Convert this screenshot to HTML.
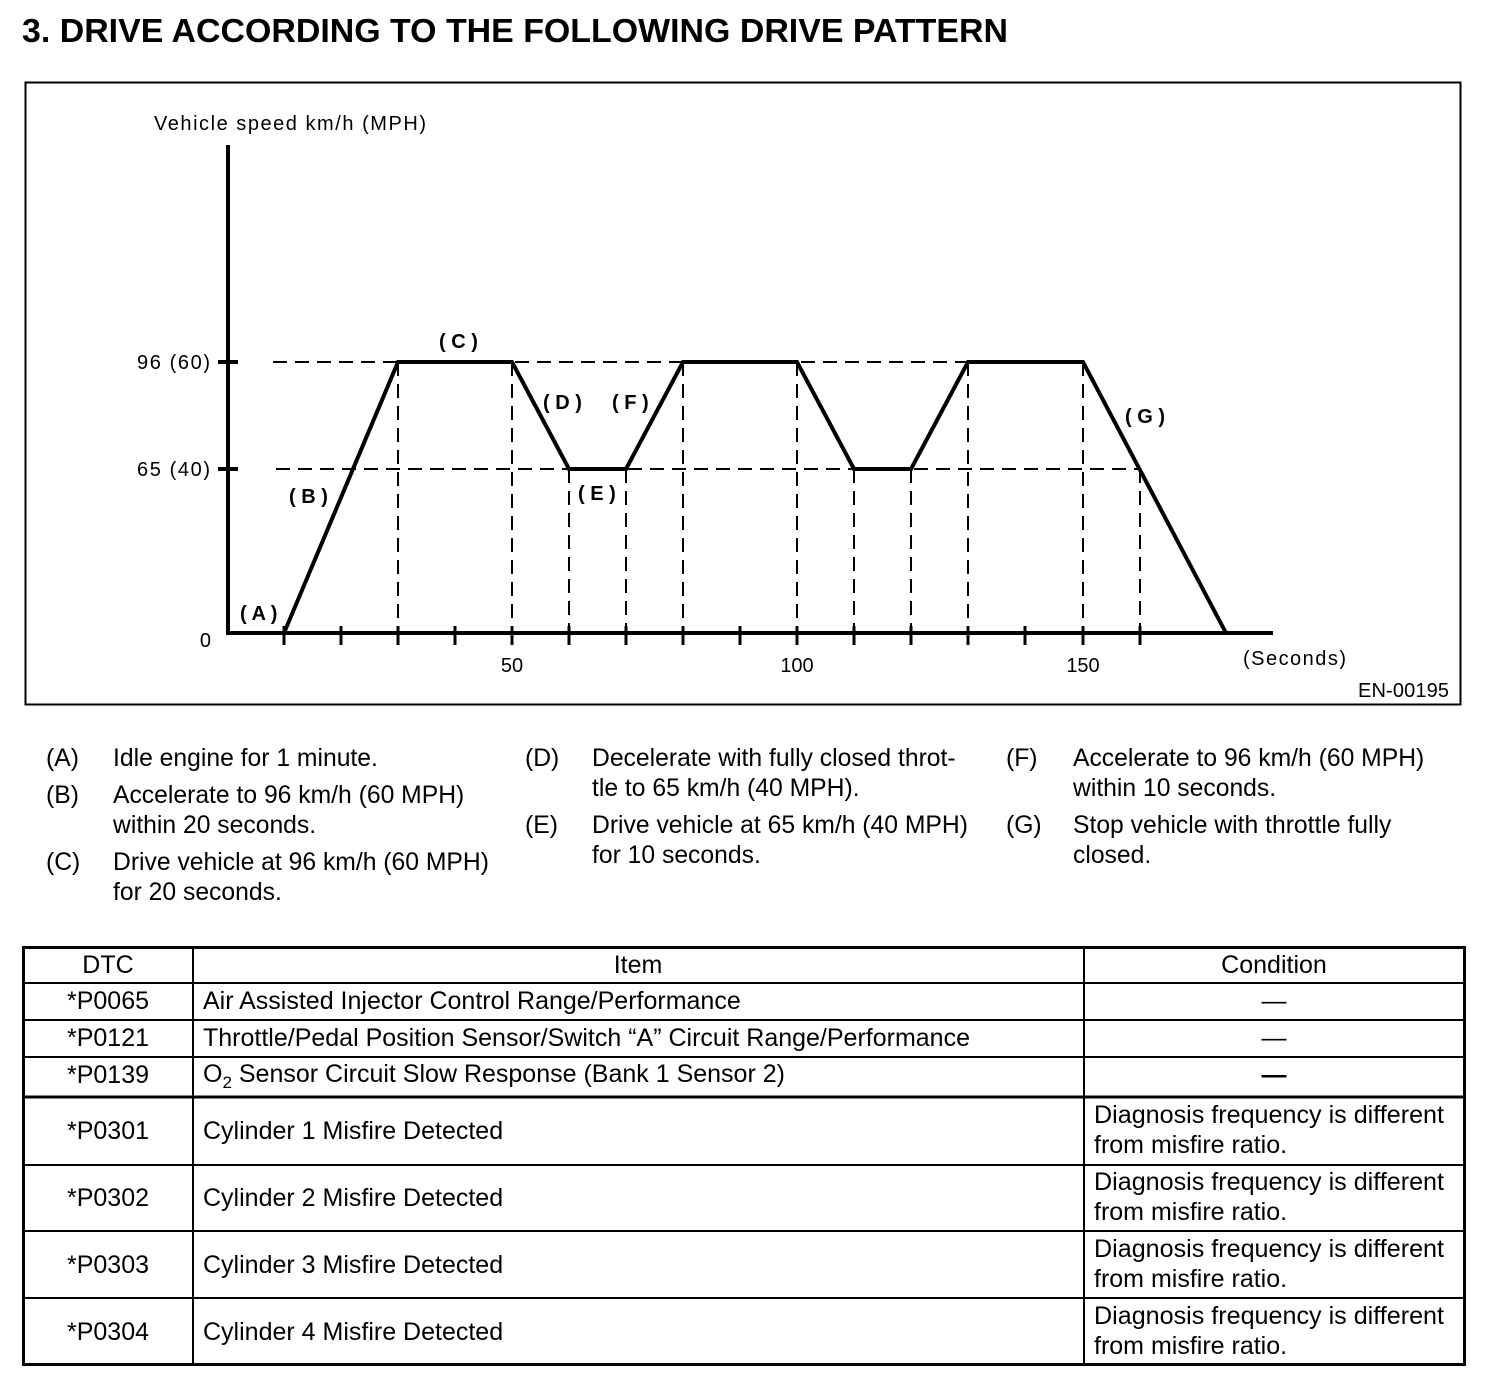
<!DOCTYPE html>
<html><head><meta charset="utf-8"><style>
html,body{margin:0;padding:0;background:#fff;}
svg{display:block;}
text{font-family:"Liberation Sans",Arial,sans-serif;fill:#000;}
</style></head><body>
<svg width="1504" height="1388" viewBox="0 0 1504 1388" xmlns="http://www.w3.org/2000/svg">
<text x="22" y="42" font-size="33" font-weight="bold" textLength="986" lengthAdjust="spacingAndGlyphs">3.  DRIVE ACCORDING TO THE FOLLOWING DRIVE PATTERN</text>
<rect x="25.5" y="82.5" width="1435" height="622" fill="none" stroke="#000" stroke-width="2"/>
<text x="154" y="130" font-size="20" textLength="272" lengthAdjust="spacing">Vehicle speed km/h (MPH)</text>
<g stroke="#000" stroke-width="4" fill="none">
<line x1="228" y1="145" x2="228" y2="635"/>
<line x1="226" y1="633" x2="1273" y2="633"/>
<line x1="218" y1="362" x2="238" y2="362"/>
<line x1="218" y1="469" x2="238" y2="469"/>
<path d="M284 633 L398 362 L512 362 L569 469 L626 469 L683 362 L797 362 L854 469 L911 469 L968 362 L1083 362 L1226 633" stroke-linejoin="miter"/>
</g>
<g stroke="#000" stroke-width="3">
<line x1="284" y1="626" x2="284" y2="645"/><line x1="341" y1="626" x2="341" y2="645"/><line x1="398" y1="626" x2="398" y2="645"/><line x1="455" y1="626" x2="455" y2="645"/><line x1="512" y1="626" x2="512" y2="645"/><line x1="569" y1="626" x2="569" y2="645"/><line x1="626" y1="626" x2="626" y2="645"/><line x1="683" y1="626" x2="683" y2="645"/><line x1="740" y1="626" x2="740" y2="645"/><line x1="797" y1="626" x2="797" y2="645"/><line x1="854" y1="626" x2="854" y2="645"/><line x1="911" y1="626" x2="911" y2="645"/><line x1="968" y1="626" x2="968" y2="645"/><line x1="1025" y1="626" x2="1025" y2="645"/><line x1="1083" y1="626" x2="1083" y2="645"/><line x1="1140" y1="626" x2="1140" y2="645"/>
</g>
<g stroke="#000" stroke-width="2" stroke-dasharray="14,8" fill="none">
<line x1="273" y1="362" x2="1083" y2="362"/>
<line x1="276" y1="469" x2="1140" y2="469"/>
<line x1="398" y1="362" x2="398" y2="633"/><line x1="512" y1="362" x2="512" y2="633"/><line x1="569" y1="469" x2="569" y2="633"/><line x1="626" y1="469" x2="626" y2="633"/><line x1="683" y1="362" x2="683" y2="633"/><line x1="797" y1="362" x2="797" y2="633"/><line x1="854" y1="469" x2="854" y2="633"/><line x1="911" y1="469" x2="911" y2="633"/><line x1="968" y1="362" x2="968" y2="633"/><line x1="1083" y1="362" x2="1083" y2="633"/><line x1="1140" y1="469" x2="1140" y2="633"/>
</g>
<g font-size="20">
<text x="137" y="369" textLength="73" lengthAdjust="spacing">96 (60)</text>
<text x="137" y="476" textLength="73" lengthAdjust="spacing">65 (40)</text>
<text x="211" y="647" text-anchor="end">0</text>
<text x="512" y="672" text-anchor="middle">50</text>
<text x="797" y="672" text-anchor="middle">100</text>
<text x="1083" y="672" text-anchor="middle">150</text>
<text x="1243" y="665" textLength="103" lengthAdjust="spacing">(Seconds)</text>
<text x="1358" y="697" textLength="91" lengthAdjust="spacing">EN-00195</text>
</g>
<g font-size="20" font-weight="bold">
<text x="240" y="620">( A )</text>
<text x="289" y="503">( B )</text>
<text x="439" y="348">( C )</text>
<text x="543" y="409">( D )</text>
<text x="578" y="500">( E )</text>
<text x="612" y="409">( F )</text>
<text x="1125" y="423">( G )</text>
</g>
<g font-size="24.7">
<text x="46" y="766">(A)</text><text x="113" y="766">Idle engine for 1 minute.</text>
<text x="46" y="803">(B)</text><text x="113" y="803">Accelerate to 96 km/h (60 MPH)</text>
<text x="113" y="833">within 20 seconds.</text>
<text x="46" y="870">(C)</text><text x="113" y="870">Drive vehicle at 96 km/h (60 MPH)</text>
<text x="113" y="900">for 20 seconds.</text>
<text x="525" y="766">(D)</text><text x="592" y="766">Decelerate with fully closed throt-</text>
<text x="592" y="796">tle to 65 km/h (40 MPH).</text>
<text x="525" y="833">(E)</text><text x="592" y="833">Drive vehicle at 65 km/h (40 MPH)</text>
<text x="592" y="863">for 10 seconds.</text>
<text x="1006" y="766">(F)</text><text x="1073" y="766">Accelerate to 96 km/h (60 MPH)</text>
<text x="1073" y="796">within 10 seconds.</text>
<text x="1006" y="833">(G)</text><text x="1073" y="833">Stop vehicle with throttle fully</text>
<text x="1073" y="863">closed.</text>
</g>
<g stroke="#000" fill="none">
<rect x="23.5" y="947.5" width="1441" height="417" stroke-width="3"/>
<line x1="193" y1="947" x2="193" y2="1365" stroke-width="2"/>
<line x1="1084" y1="947" x2="1084" y2="1365" stroke-width="2"/>
<line x1="23" y1="983" x2="1465" y2="983" stroke-width="2"/>
<line x1="23" y1="1020" x2="1465" y2="1020" stroke-width="2"/>
<line x1="23" y1="1057" x2="1465" y2="1057" stroke-width="2"/>
<line x1="23" y1="1097" x2="1465" y2="1097" stroke-width="3"/>
<line x1="23" y1="1165" x2="1465" y2="1165" stroke-width="2"/>
<line x1="23" y1="1231" x2="1465" y2="1231" stroke-width="2"/>
<line x1="23" y1="1298" x2="1465" y2="1298" stroke-width="2"/>
</g>
<g font-size="25">
<text x="108" y="973" text-anchor="middle">DTC</text>
<text x="638" y="973" text-anchor="middle">Item</text>
<text x="1274" y="973" text-anchor="middle">Condition</text>
<text x="108" y="1009" text-anchor="middle">*P0065</text><text x="203" y="1009">Air Assisted Injector Control Range/Performance</text><text x="1274" y="1009" text-anchor="middle">—</text>
<text x="108" y="1046" text-anchor="middle">*P0121</text><text x="203" y="1046">Throttle/Pedal Position Sensor/Switch “A” Circuit Range/Performance</text><text x="1274" y="1046" text-anchor="middle">—</text>
<text x="108" y="1083" text-anchor="middle">*P0139</text><text x="203" y="1082">O<tspan font-size="17" dy="6">2</tspan><tspan dy="-6"> Sensor Circuit Slow Response (Bank 1 Sensor 2)</tspan></text><text x="1274" y="1083" text-anchor="middle" font-weight="bold">—</text>
<text x="108" y="1139" text-anchor="middle">*P0301</text><text x="203" y="1139">Cylinder 1 Misfire Detected</text>
<text x="1094" y="1123" textLength="350" lengthAdjust="spacingAndGlyphs">Diagnosis frequency is different</text><text x="1094" y="1153">from misfire ratio.</text>
<text x="108" y="1206" text-anchor="middle">*P0302</text><text x="203" y="1206">Cylinder 2 Misfire Detected</text>
<text x="1094" y="1190" textLength="350" lengthAdjust="spacingAndGlyphs">Diagnosis frequency is different</text><text x="1094" y="1220">from misfire ratio.</text>
<text x="108" y="1273" text-anchor="middle">*P0303</text><text x="203" y="1273">Cylinder 3 Misfire Detected</text>
<text x="1094" y="1257" textLength="350" lengthAdjust="spacingAndGlyphs">Diagnosis frequency is different</text><text x="1094" y="1287">from misfire ratio.</text>
<text x="108" y="1340" text-anchor="middle">*P0304</text><text x="203" y="1340">Cylinder 4 Misfire Detected</text>
<text x="1094" y="1324" textLength="350" lengthAdjust="spacingAndGlyphs">Diagnosis frequency is different</text><text x="1094" y="1354">from misfire ratio.</text>
</g>
</svg>
</body></html>
